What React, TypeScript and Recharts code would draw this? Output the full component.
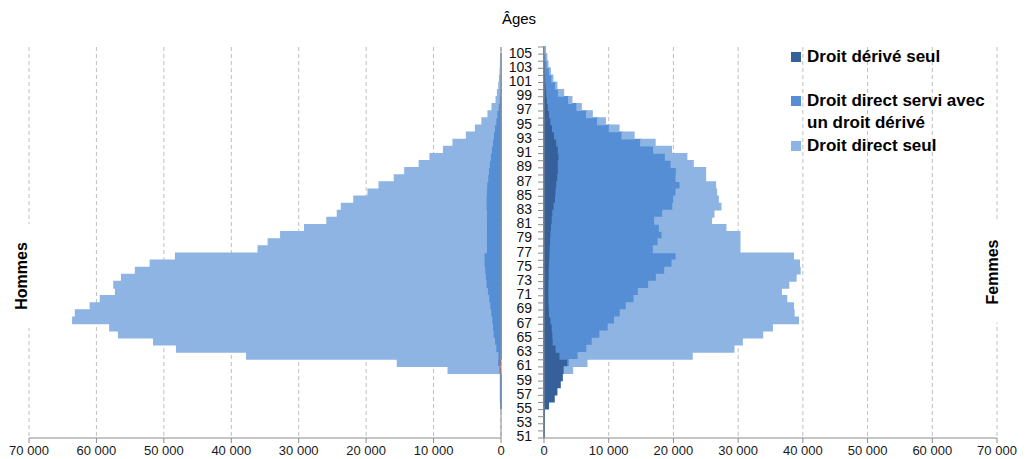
import { Bar, BarChart, CartesianGrid, Legend, ReferenceLine, XAxis, YAxis } from 'recharts';

// âges 51 -> 105 (une barre par âge)
const ages = [
  51, 52, 53, 54, 55, 56, 57, 58, 59, 60,
  61, 62, 63, 64, 65, 66, 67, 68, 69, 70,
  71, 72, 73, 74, 75, 76, 77, 78, 79, 80,
  81, 82, 83, 84, 85, 86, 87, 88, 89, 90,
  91, 92, 93, 94, 95, 96, 97, 98, 99, 100,
  101, 102, 103, 104, 105,
];

const xTicks = [0, 10000, 20000, 30000, 40000, 50000, 60000, 70000];

// Hommes
const hommesAutre = [
  0, 0, 0, 0, 0, 0, 0, 0, 0, 250,
  250, 0, 0, 0, 0, 0, 0, 0, 0, 0,
  0, 0, 0, 0, 0, 0, 0, 0, 0, 0,
  0, 0, 0, 0, 0, 0, 0, 0, 0, 0,
  0, 0, 0, 0, 0, 0, 0, 0, 0, 0,
  0, 0, 0, 0, 0,
];
const hommesDerive = [
  0, 0, 0, 0, 0, 0, 0, 0, 0, 0,
  0, 0, 0, 0, 0, 0, 0, 0, 0, 0,
  0, 0, 0, 0, 0, 0, 0, 0, 0, 0,
  0, 0, 0, 0, 0, 0, 0, 0, 0, 0,
  0, 0, 0, 0, 0, 0, 0, 0, 0, 0,
  0, 0, 0, 0, 0,
];
const hommesDirectAvec = [
  0, 0, 0, 0, 30, 60, 60, 60, 60, 100,
  300, 500, 800, 1000, 1200, 1300, 1400, 1550, 1700, 1850,
  2050, 2250, 2350, 2450, 2550, 2550, 2200, 2200, 2200, 2200,
  2200, 2200, 2250, 2250, 2200, 2150, 2000, 1900, 1750, 1600,
  1450, 1300, 1150, 1000, 800, 650, 450, 300, 200, 120,
  80, 40, 20, 10, 0,
];
const hommesDirectSeul = [
  0, 0, 0, 0, 0, 0, 0, 0, 0, 7470,
  14800, 37200, 47300, 50500, 55500, 56700, 62100, 61550, 59200, 57550,
  55100, 55150, 53900, 51750, 49450, 45700, 33800, 32300, 30450, 26900,
  23600, 22050, 21400, 19550, 17500, 15910, 13800, 12350, 10350, 8900,
  7050, 5800, 3950, 2760, 2000, 1250, 850, 400, 300, 180,
  120, 60, 30, 10, 0,
];

// Femmes
const femmesDerive = [
  20, 20, 30, 40, 670, 1550, 1960, 2480, 2800, 3100,
  3700, 2500, 1900, 1450, 1400, 1300, 1100, 900, 850, 800,
  800, 800, 850, 850, 900, 950, 1000, 1050, 1100, 1200,
  1300, 1400, 1600, 1800, 1900, 2000, 2150, 2250, 2250, 2350,
  2250, 2000, 1650, 1350, 1100, 900, 700, 550, 450, 350,
  300, 250, 200, 150, 100,
];
const femmesDirectAvec = [
  0, 0, 0, 0, 0, 0, 0, 0, 0, 100,
  250, 2800, 4760, 6040, 7270, 8660, 9840, 10920, 11900, 13140,
  13810, 15410, 16550, 17840, 18920, 19490, 15930, 16610, 17180, 16660,
  15840, 16980, 18330, 18280, 18540, 19060, 18290, 18240, 17420, 16440,
  14730, 12970, 10430, 8770, 7210, 5710, 4410, 3290, 1820, 1450,
  950, 630, 320, 200, 20,
];
const femmesDirectSeul = [
  0, 0, 0, 0, 0, 0, 0, 0, 0, 1200,
  2650, 17570, 22660, 23120, 25090, 25300, 28350, 26800, 25760, 23540,
  22040, 21580, 21530, 20860, 19620, 18070, 13320, 12590, 11970, 10220,
  8720, 7850, 7380, 6820, 6200, 5420, 4500, 4450, 3360, 3250,
  2690, 2170, 1810, 1440, 1140, 820, 620, 440, 730, 160,
  90, 50, 50, 50, 30,
];

const NAME_DERIVE = 'Droit dérivé seul';
const NAME_AVEC = 'Droit direct servi avec un droit dérivé';
const NAME_SEUL = 'Droit direct seul';
const legendOrder = [NAME_DERIVE, NAME_AVEC, NAME_SEUL];

const C_DERIVE = '#36609A';
const C_AVEC = '#558ED5';
const C_SEUL = '#8EB4E3';
const C_AUTRE = '#C0504D';

const FONT = '"Liberation Sans", Arial, sans-serif';
const GRID = '#BFBFBF';
const AXIS = '#8C8C8C';
const BAND = 391 / 55; // hauteur d'une tranche d'âge (plot de 391 px)
const EDGE = 1.5; // contour de la couleur de la barre, bouche les interstices

const rows = ages.map((age, i) => ({
  age,
  hAutre: hommesAutre[i],
  hDerive: hommesDerive[i],
  hAvec: hommesDirectAvec[i],
  hSeul: hommesDirectSeul[i],
  fDerive: femmesDerive[i],
  fAvec: femmesDirectAvec[i],
  fSeul: femmesDirectSeul[i],
}));

const fmt = (v: number) => String(v).replace(/\B(?=(\d{3})+(?!\d))/g, ' ');

function AgeTick(props: any) {
  const { x, y, payload } = props;
  const half = payload.offset || BAND / 2;
  const age = payload.value as number;
  return (
    <g>
      <line x1={x + 2} x2={x + 8} y1={y + half} y2={y + half} stroke={AXIS} />
      {age === 105 && <line x1={x + 2} x2={x + 8} y1={y - half} y2={y - half} stroke={AXIS} />}
      {age % 2 === 1 && (
        <text x={x - 4} y={y + 7} textAnchor="end" fontSize={14} fill="#111" fontFamily={FONT}>
          {age}
        </text>
      )}
    </g>
  );
}

function LegendBox({ payload }: any) {
  const gaps = [22, 1, 0];
  const items = [...(payload || [])].sort(
    (a: any, b: any) => legendOrder.indexOf(a.value) - legendOrder.indexOf(b.value),
  );
  return (
    <div style={{ fontFamily: FONT, fontSize: 17, fontWeight: 'bold', lineHeight: '22px', color: '#000' }}>
      {items.map((p: any, i: number) => (
        <div key={p.value} style={{ display: 'flex', alignItems: 'flex-start', marginBottom: gaps[i] ?? 0 }}>
          <span style={{ width: 10, height: 10, marginTop: 6, background: p.color, flex: 'none' }} />
          <span style={{ marginLeft: 6, width: 190 }}>{p.value}</span>
        </div>
      ))}
    </div>
  );
}

const tickStyle = { fontSize: 13, fill: '#1a1a1a', fontFamily: FONT };

export default function App() {
  return (
    <div style={{ position: 'absolute', left: 0, top: 0, width: 1032, height: 459, background: '#fff', fontFamily: FONT }}>
      <div style={{ position: 'absolute', left: 0, top: 0 }}>
        <BarChart
          width={520}
          height={459}
          data={rows}
          layout="vertical"
          barCategoryGap={0}
          barSize={BAND}
          margin={{ top: 47, right: 19, bottom: 0, left: 29 }}
        >
          <CartesianGrid horizontal={false} stroke={GRID} strokeDasharray="4 3" />
          <XAxis
            type="number"
            domain={[0, 70000]}
            ticks={xTicks}
            reversed
            interval={0}
            tickFormatter={fmt}
            height={21}
            tickSize={5}
            tickMargin={3}
            stroke={AXIS}
            tick={tickStyle}
          />
          <YAxis type="category" dataKey="age" reversed hide />
          <Bar dataKey="hAutre" stackId="h" fill={C_AUTRE} isAnimationActive={false} legendType="none" />
          <Bar dataKey="hDerive" name={NAME_DERIVE} stackId="h" fill={C_DERIVE} stroke={C_DERIVE} strokeWidth={EDGE} isAnimationActive={false} />
          <Bar dataKey="hAvec" name={NAME_AVEC} stackId="h" fill={C_AVEC} stroke={C_AVEC} strokeWidth={EDGE} isAnimationActive={false} />
          <Bar dataKey="hSeul" name={NAME_SEUL} stackId="h" fill={C_SEUL} stroke={C_SEUL} strokeWidth={EDGE} isAnimationActive={false} />
          <ReferenceLine x={0} stroke={AXIS} />
        </BarChart>
      </div>

      <div style={{ position: 'absolute', left: 490, top: 0 }}>
        <BarChart
          width={542}
          height={459}
          data={rows}
          layout="vertical"
          barCategoryGap={0}
          barSize={BAND}
          margin={{ top: 47, right: 35, bottom: 0, left: 0 }}
        >
          <CartesianGrid horizontal={false} stroke={GRID} strokeDasharray="4 3" />
          <XAxis
            type="number"
            domain={[0, 70000]}
            ticks={xTicks}
            interval={0}
            tickFormatter={fmt}
            height={21}
            tickSize={5}
            tickMargin={3}
            stroke={AXIS}
            tick={tickStyle}
          />
          <YAxis
            type="category"
            dataKey="age"
            reversed
            width={54}
            interval={0}
            tickLine={false}
            stroke={AXIS}
            tick={<AgeTick />}
          />
          <Legend
            content={<LegendBox />}
            layout="vertical"
            align="center"
            verticalAlign="middle"
            wrapperStyle={{ left: 301, top: 46, width: 230 }}
          />
          <Bar dataKey="fDerive" name={NAME_DERIVE} stackId="f" fill={C_DERIVE} stroke={C_DERIVE} strokeWidth={EDGE} isAnimationActive={false} />
          <Bar dataKey="fAvec" name={NAME_AVEC} stackId="f" fill={C_AVEC} stroke={C_AVEC} strokeWidth={EDGE} isAnimationActive={false} />
          <Bar dataKey="fSeul" name={NAME_SEUL} stackId="f" fill={C_SEUL} stroke={C_SEUL} strokeWidth={EDGE} isAnimationActive={false} />
        </BarChart>
      </div>

      <div style={{ position: 'absolute', left: 519, top: 18, transform: 'translate(-50%, -50%)', fontSize: 15, color: '#000' }}>
        Âges
      </div>
      <div
        style={{
          position: 'absolute', left: 22, top: 276, transform: 'translate(-50%, -50%) rotate(-90deg)',
          fontSize: 16, fontWeight: 'bold', background: '#fff', padding: '0 18px', lineHeight: '20px', whiteSpace: 'nowrap',
        }}
      >
        Hommes
      </div>
      <div
        style={{
          position: 'absolute', left: 993, top: 272, transform: 'translate(-50%, -50%) rotate(-90deg)',
          fontSize: 16, fontWeight: 'bold', background: '#fff', padding: '0 18px', lineHeight: '20px', whiteSpace: 'nowrap',
        }}
      >
        Femmes
      </div>
    </div>
  );
}
